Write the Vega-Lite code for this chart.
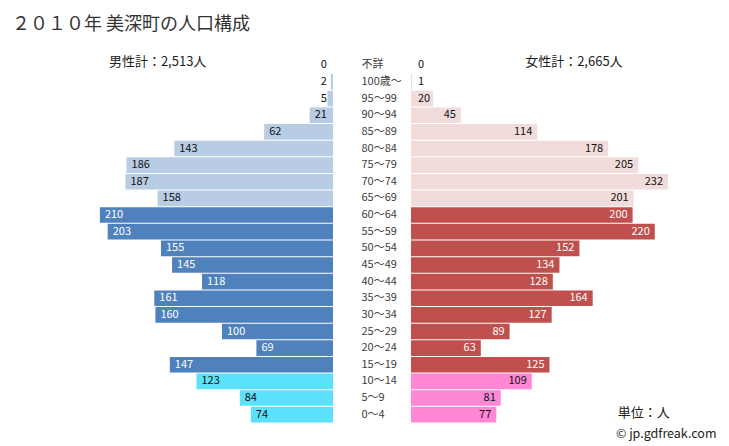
{
  "$schema": "https://vega.github.io/schema/vega-lite/v6.json",
  "padding": {"top": 16, "left": 0, "right": 0, "bottom": 0},
  "background": "white",
  "bounds": "flush",
  "spacing": 78,
  "resolve": {"scale": {"color": "independent"}},
  "config": {"view": {"stroke": null}, "font": "Noto Sans CJK JP"},
  "title": {"text": "２０１０年 美深町の人口構成", "anchor": "start", "dx": 12, "fontSize": 18, "fontWeight": "normal", "color": "#333333", "font": "Noto Sans CJK JP", "offset": 22},
  "datasets": {
    "pop": [
      {"age": "不詳", "grp": "old", "male": 0, "female": 0},
      {"age": "100歳～", "grp": "old", "male": 2, "female": 1},
      {"age": "95～99", "grp": "old", "male": 5, "female": 20},
      {"age": "90～94", "grp": "old", "male": 21, "female": 45},
      {"age": "85～89", "grp": "old", "male": 62, "female": 114},
      {"age": "80～84", "grp": "old", "male": 143, "female": 178},
      {"age": "75～79", "grp": "old", "male": 186, "female": 205},
      {"age": "70～74", "grp": "old", "male": 187, "female": 232},
      {"age": "65～69", "grp": "old", "male": 158, "female": 201},
      {"age": "60～64", "grp": "work", "male": 210, "female": 200},
      {"age": "55～59", "grp": "work", "male": 203, "female": 220},
      {"age": "50～54", "grp": "work", "male": 155, "female": 152},
      {"age": "45～49", "grp": "work", "male": 145, "female": 134},
      {"age": "40～44", "grp": "work", "male": 118, "female": 128},
      {"age": "35～39", "grp": "work", "male": 161, "female": 164},
      {"age": "30～34", "grp": "work", "male": 160, "female": 127},
      {"age": "25～29", "grp": "work", "male": 100, "female": 89},
      {"age": "20～24", "grp": "work", "male": 69, "female": 63},
      {"age": "15～19", "grp": "work", "male": 147, "female": 125},
      {"age": "10～14", "grp": "young", "male": 123, "female": 109},
      {"age": "5～9", "grp": "young", "male": 84, "female": 81},
      {"age": "0～4", "grp": "young", "male": 74, "female": 77}
    ]
  },
  "hconcat": [
    {
      "width": 333,
      "height": 366,
      "data": {"name": "pop"},
      "encoding": {
        "y": {"field": "age", "type": "nominal", "sort": null, "axis": null,
              "scale": {"domain": ["不詳", "100歳～", "95～99", "90～94", "85～89", "80～84", "75～79", "70～74", "65～69", "60～64", "55～59", "50～54", "45～49", "40～44", "35～39", "30～34", "25～29", "20～24", "15～19", "10～14", "5～9", "0～4"], "paddingInner": 0.06, "paddingOuter": 0.03}}
      },
      "layer": [
        {
          "mark": {"type": "bar"},
          "encoding": {
            "x": {"field": "male", "type": "quantitative", "axis": null, "scale": {"domain": [0, 300], "reverse": true, "nice": false}},
            "color": {"field": "grp", "type": "nominal", "legend": null,
                      "scale": {"domain": ["old", "work", "young"], "range": ["#b8cce4", "#4f81bd", "#5ce1fa"]}}
          }
        },
        {
          "transform": [{"filter": "datum.male >= 10"}],
          "mark": {"type": "text", "align": "left", "dx": 5, "fontSize": 11, "baseline": "middle"},
          "encoding": {
            "x": {"field": "male", "type": "quantitative"},
            "text": {"field": "male", "type": "quantitative"},
            "color": {"condition": {"test": "datum.grp === 'work'", "value": "white"}, "value": "#111111"}
          }
        },
        {
          "transform": [{"filter": "datum.male < 10"}],
          "mark": {"type": "text", "align": "right", "fontSize": 11, "baseline": "middle", "color": "#111111"},
          "encoding": {
            "x": {"datum": 5.5, "type": "quantitative"},
            "text": {"field": "male", "type": "quantitative"}
          }
        },
        {
          "data": {"values": [{"age": "不詳", "label": "男性計：2,513人", "pos": 158}]},
          "mark": {"type": "text", "align": "center", "baseline": "middle", "fontSize": 13, "dy": -3, "color": "#222222"},
          "encoding": {
            "x": {"field": "pos", "type": "quantitative"},
            "text": {"field": "label"}
          }
        }
      ]
    },
    {
      "width": 318,
      "height": 366,
      "data": {"name": "pop"},
      "encoding": {
        "y": {"field": "age", "type": "nominal", "sort": null,
              "scale": {"domain": ["不詳", "100歳～", "95～99", "90～94", "85～89", "80～84", "75～79", "70～74", "65～69", "60～64", "55～59", "50～54", "45～49", "40～44", "35～39", "30～34", "25～29", "20～24", "15～19", "10～14", "5～9", "0～4"], "paddingInner": 0.06, "paddingOuter": 0.03},
              "axis": {"title": null, "orient": "left", "ticks": false, "domain": false, "labelAlign": "left", "labelPadding": 50, "labelFontSize": 11, "labelColor": "#404040", "labelFont": "Noto Sans CJK JP"}}
      },
      "layer": [
        {
          "mark": {"type": "bar"},
          "encoding": {
            "x": {"field": "female", "type": "quantitative", "axis": null, "scale": {"domain": [0, 287], "nice": false}},
            "color": {"field": "grp", "type": "nominal", "legend": null,
                      "scale": {"domain": ["old", "work", "young"], "range": ["#f2dcdb", "#c0504d", "#ff87d6"]}}
          }
        },
        {
          "transform": [{"filter": "datum.female >= 25"}],
          "mark": {"type": "text", "align": "right", "dx": -5, "fontSize": 11, "baseline": "middle"},
          "encoding": {
            "x": {"field": "female", "type": "quantitative"},
            "text": {"field": "female", "type": "quantitative"},
            "color": {"condition": {"test": "datum.grp === 'work'", "value": "white"}, "value": "#111111"}
          }
        },
        {
          "transform": [{"filter": "datum.female < 25"}],
          "mark": {"type": "text", "align": "left", "fontSize": 11, "baseline": "middle", "color": "#111111"},
          "encoding": {
            "x": {"datum": 6.3, "type": "quantitative"},
            "text": {"field": "female", "type": "quantitative"}
          }
        },
        {
          "data": {"values": [{"age": "不詳", "label": "女性計：2,665人", "pos": 147}]},
          "mark": {"type": "text", "align": "center", "baseline": "middle", "fontSize": 13, "dy": -3, "color": "#222222"},
          "encoding": {
            "x": {"field": "pos", "type": "quantitative"},
            "text": {"field": "label"}
          }
        },
        {
          "data": {"values": [{"age": "0～4", "label": "単位：人", "pos": 210}]},
          "mark": {"type": "text", "align": "center", "baseline": "middle", "fontSize": 13, "dy": -2, "color": "#222222"},
          "encoding": {
            "x": {"field": "pos", "type": "quantitative"},
            "text": {"field": "label"}
          }
        },
        {
          "data": {"values": [{"age": "0～4", "label": "© jp.gdfreak.com", "pos": 185}]},
          "mark": {"type": "text", "align": "left", "baseline": "middle", "fontSize": 12.5, "dy": 19, "color": "#222222"},
          "encoding": {
            "x": {"field": "pos", "type": "quantitative"},
            "text": {"field": "label"}
          }
        }
      ]
    }
  ]
}
